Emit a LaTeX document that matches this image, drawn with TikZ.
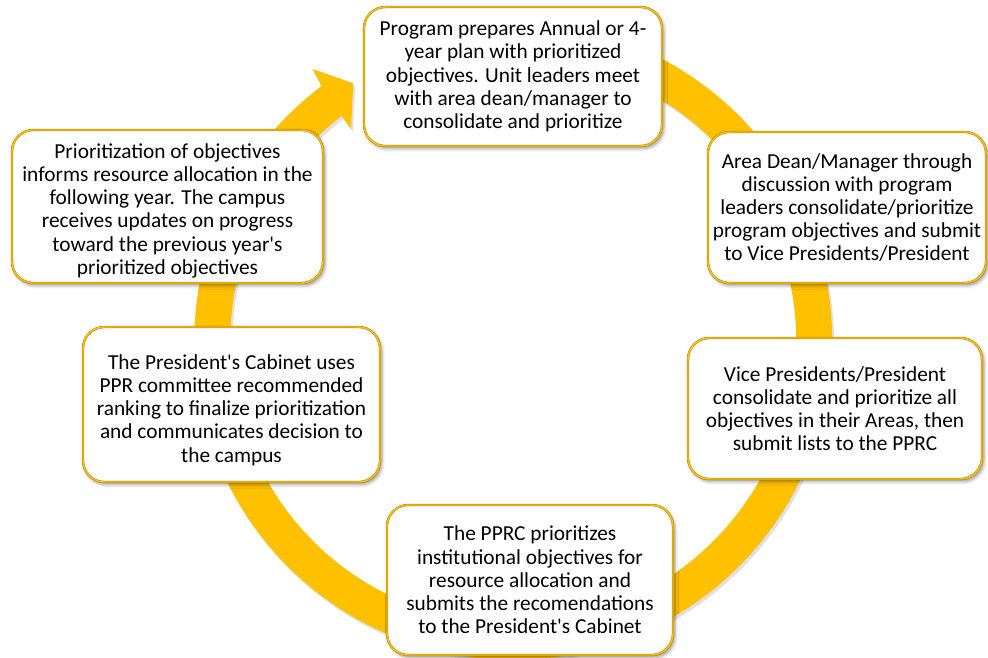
\documentclass[tikz,border=0pt]{standalone}
\usepackage{fontspec}
\setmainfont{Carlito}
\usetikzlibrary{shadows.blur}
\definecolor{ringgold}{RGB}{255,192,0}
\definecolor{edgegold}{RGB}{165,128,30}
\tikzset{
  stepbox/.style={draw=edgegold, double=ringgold, double distance=1.1pt, line width=0.35pt,
    fill=white, rounded corners=16pt, align=center, inner sep=0pt,
    font=\fontsize{16}{17.4}\selectfont, text=black,
    blur shadow={shadow xshift=1.5pt, shadow yshift=-2pt, shadow opacity=40, shadow blur radius=2.5pt}},
  ringline/.style={line width=27pt, draw=ringgold},
  ringshadow/.style={line width=27pt, draw=black, opacity=0.12}
}
\begin{document}
\begin{tikzpicture}[x=0.75pt,y=-0.75pt]
\useasboundingbox (0,0) rectangle (988,657);
% ring shadow
\begin{scope}[shift={(2,3)}]
\draw[ringshadow] plot[domain=-105:234,samples=160] ({513.25+301*cos(\x)},{341+301*sin(\x)});
\fill[black,opacity=0.12] (321.7,86.7) -- (312.7,69) -- (353.3,83.3) -- (351,129) -- (341.7,115.7) -- cycle;
\end{scope}
% ring
\draw[ringline] plot[domain=-105:234,samples=160] ({513.25+301*cos(\x)},{341+301*sin(\x)});
\coordinate (hn1) at (321.7,86.7);
\coordinate (hb1) at (312.7,69);
\coordinate (htip) at (353.3,83.3);
\coordinate (hb2) at (351,129);
\coordinate (hn2) at (341.7,115.7);
\fill[ringgold] (hn1) -- (hb1) -- (htip) -- (hb2) -- (hn2) -- cycle;
% boxes
\node[stepbox, minimum width=223.5pt, minimum height=104.25pt] (b1) at (513,76.5)
  {Program prepares Annual or 4-\\year plan with prioritized\\objectives. Unit leaders meet\\with area dean/manager to\\consolidate and prioritize};
\node[stepbox, minimum width=208.5pt, minimum height=113.25pt] (b2) at (847,207.5)
  {Area Dean/Manager through\\discussion with program\\leaders consolidate/prioritize\\program objectives and submit\\to Vice Presidents/President};
\node[stepbox, minimum width=220.5pt, minimum height=105.75pt] (b3) at (835,408.5)
  {Vice Presidents/President\\consolidate and prioritize all\\objectives in their Areas, then\\submit lists to the PPRC};
\node[stepbox, minimum width=214.5pt, minimum height=112.5pt] (b4) at (530,580)
  {The PPRC prioritizes\\institutional objectives for\\resource allocation and\\submits the recomendations\\to the President\textquotesingle s Cabinet};
\node[stepbox, minimum width=222.75pt, minimum height=116.25pt] (b5) at (231.5,404.5)
  {\rule{0pt}{19.5pt}The President\textquotesingle s Cabinet uses\\PPR committee recommended\\ranking to finalize prioritization\\and communicates decision to\\the campus};
\node[stepbox, minimum width=233.25pt, minimum height=114.75pt] (b6) at (167.5,206.5)
  {\rule{0pt}{17.5pt}Prioritization of objectives\\informs resource allocation in the\\following year. The campus\\receives updates on progress\\toward the previous year\textquotesingle s\\prioritized objectives};
\end{tikzpicture}
\end{document}
